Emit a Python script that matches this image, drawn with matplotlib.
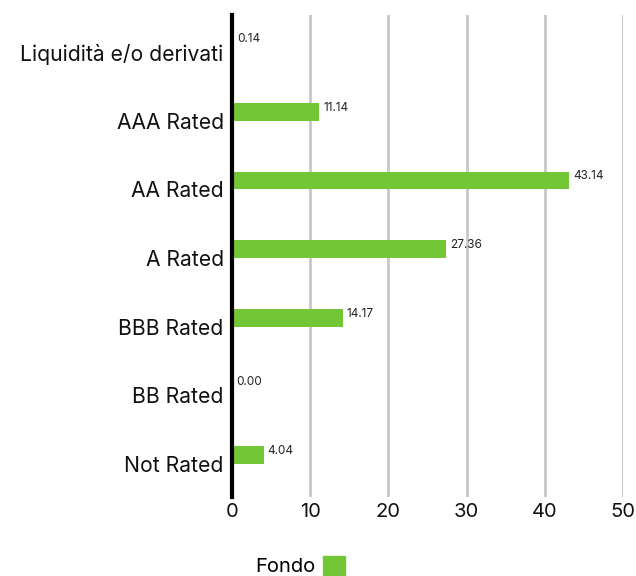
import matplotlib
matplotlib.use("Agg")
import matplotlib.pyplot as plt
from matplotlib.patches import Patch

categories = ["Liquidità e/o derivati", "AAA Rated", "AA Rated", "A Rated",
              "BBB Rated", "BB Rated", "Not Rated"]
fondo = [0.14, 11.14, 43.14, 27.36, 14.17, 0.00, 4.04]
xticks = [0, 10, 20, 30, 40, 50]

green = "#73c636"
plt.rcParams['font.family'] = ['Inter', 'DejaVu Sans']

fig = plt.figure(figsize=(6.36, 5.76), dpi=100)
ax = fig.add_axes([232/636, 1-497/576, (623-232)/636, (497-15)/576])

pos = list(range(len(categories)))
bar_pos = [p - 0.13 for p in pos]
ax.barh(bar_pos, fondo, height=0.26, color=green, zorder=3)
for y, v in zip(bar_pos, fondo):
    ax.text(v + 0.5, y - 0.06, f"{v:.2f}", va="center", ha="left", fontsize=8.5, color="#222222")

ax.set_xlim(0, 50)
ax.set_ylim(6.48, -0.54)
ax.set_yticks(pos)
ax.set_yticklabels(categories, fontsize=15.2, color="#111111")
ax.set_xticks(xticks)
ax.set_xticklabels([str(t) for t in xticks], fontsize=14.5, color="#111111")
ax.tick_params(length=0, pad=6)
ax.tick_params(axis='x', pad=4)
for x in xticks[1:]:
    ax.axvline(x, color="#c8c8c8", lw=2, zorder=1)
for s in ["top", "right", "bottom"]:
    ax.spines[s].set_visible(False)
ax.spines["left"].set_linewidth(3)
ax.spines["left"].set_color("black")
ax.spines["left"].set_zorder(4)

leg = fig.legend(handles=[Patch(color=green)], labels=["Fondo"], loc="center",
                 bbox_to_anchor=(300/636, 1-566/576), frameon=False, fontsize=14.5,
                 markerfirst=False, handlelength=1.1, handleheight=1.1, handletextpad=0.4)

fig.savefig("out.png", dpi=100)
